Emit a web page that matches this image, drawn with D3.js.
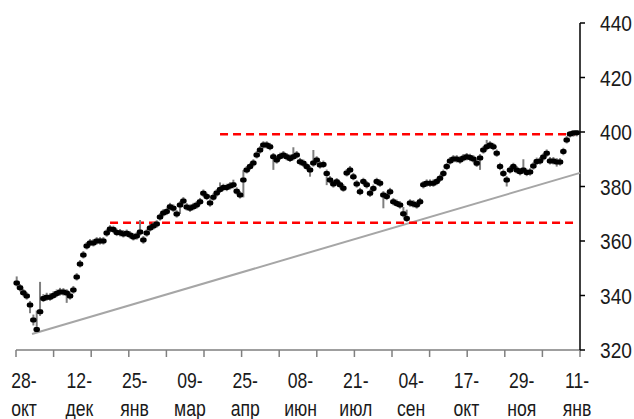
<!DOCTYPE html>
<html>
<head>
<meta charset="utf-8">
<script src="https://cdn.jsdelivr.net/npm/d3@7"></script>
<style>
  body { margin: 0; background: #fff; }
  text { font-family: Arial, "Liberation Sans", sans-serif; fill: #1a1a1a; }
</style>
</head>
<body>
<div id="chart"></div>
<script>
var width = 634,
    height = 419;

// closing prices, one per trading step
var closes = [
  344.6,342.8,341.0,339.8,336.5,331.0,327.5,334.0,338.9,339.4,
  339.4,340.0,340.7,341.3,341.3,340.9,339.8,342.0,346.8,351.6,
  354.9,358.2,359.3,359.3,360.0,360.0,360.0,362.9,364.4,364.2,
  363.1,363.0,362.6,362.8,362.2,361.5,361.8,363.3,360.4,362.9,
  364.8,365.5,366.2,368.8,370.3,370.8,372.6,372.0,369.9,373.2,
  374.7,372.5,372.0,372.6,373.2,374.4,377.5,376.3,373.9,376.1,
  377.6,378.9,379.6,379.6,380.2,380.6,378.3,376.9,382.4,386.1,
  387.3,388.6,391.6,393.4,395.2,395.2,394.6,390.9,389.7,391.0,
  391.6,390.9,390.3,390.9,391.6,389.1,388.5,387.3,386.1,388.6,
  389.7,387.9,388.1,384.8,382.4,380.9,381.7,380.6,379.4,385.0,
  386.1,383.6,380.9,378.1,381.8,380.6,377.5,379.3,381.8,381.2,
  376.9,376.3,378.1,374.4,373.8,373.2,370.0,368.3,373.9,373.6,
  373.2,374.4,380.6,381.2,381.2,381.2,381.8,383.0,384.8,387.3,
  389.4,390.1,390.1,389.7,390.5,390.9,390.6,390.1,388.5,390.5,
  393.4,394.6,395.2,394.6,392.2,387.3,384.8,382.4,386.1,387.3,
  386.1,385.4,386.1,385.1,385.3,387.5,389.2,389.4,390.8,392.2,
  389.4,389.4,389.0,389.0,392.8,397.1,399.3,399.6,399.7
];

var highs = [
  347.0,344.2,342.4,341.2,338.0,333.0,334.5,345.0,340.5,341.0,
  340.8,341.5,342.2,342.8,342.7,342.3,341.2,343.5,348.2,353.0,
  356.3,359.6,360.7,360.7,361.4,361.4,361.4,364.3,365.8,365.6,
  364.5,364.4,364.0,364.2,363.6,362.9,363.2,367.7,361.8,364.3,
  366.2,366.9,367.6,370.2,371.7,372.2,374.0,373.4,371.3,374.6,
  376.1,373.9,373.4,374.0,374.6,375.8,378.9,377.7,375.3,377.5,
  379.0,381.5,381.0,381.0,381.6,382.5,379.7,378.3,386.0,387.5,
  388.7,390.0,393.0,394.8,396.6,396.6,396.0,392.3,391.1,392.4,
  393.0,392.3,391.7,394.4,393.0,390.5,389.9,388.7,387.5,393.4,
  391.1,389.3,389.5,386.2,383.8,382.3,383.1,382.0,380.8,386.4,
  387.5,385.0,382.3,379.5,383.2,382.0,378.9,380.7,383.2,382.6,
  378.3,377.7,379.5,375.8,375.2,374.6,372.5,371.5,375.3,375.0,
  374.6,375.8,382.0,382.6,382.6,382.6,383.2,384.4,386.2,388.7,
  390.8,391.5,391.5,391.1,391.9,392.3,392.0,391.5,389.9,391.9,
  394.8,397.1,396.6,396.0,393.6,388.7,386.2,383.8,387.5,388.7,
  387.5,386.8,390.0,386.5,386.7,388.9,390.6,390.8,392.2,393.6,
  390.8,390.8,390.4,390.4,394.2,398.5,400.3,400.6,400.5
];

var lows = [
  343.3,341.5,339.7,338.5,333.5,329.0,326.5,332.5,337.6,338.1,
  338.1,338.7,339.4,340.0,340.0,337.3,338.5,340.7,345.5,350.3,
  353.6,356.9,358.0,358.0,358.7,358.7,358.7,361.6,363.1,362.9,
  361.8,361.7,361.3,361.5,360.9,360.2,360.5,362.0,359.0,361.6,
  363.5,364.2,364.9,367.5,369.0,369.5,371.3,370.7,368.6,369.9,
  373.4,371.2,370.7,371.3,371.9,373.1,376.2,375.0,372.6,374.8,
  376.3,377.6,378.3,378.3,378.9,379.3,377.0,375.6,376.0,384.8,
  386.0,387.3,390.3,392.1,393.9,393.9,393.3,386.1,388.4,389.7,
  390.3,389.6,389.0,389.6,390.3,387.8,387.2,386.0,383.6,387.3,
  388.4,386.6,386.8,380.5,381.1,379.6,380.4,379.3,378.1,383.7,
  384.8,382.3,379.6,376.8,380.5,379.3,376.2,378.0,380.5,379.9,
  372.0,375.0,376.8,373.1,372.5,371.9,368.7,367.0,372.6,372.3,
  371.9,373.1,379.3,379.9,379.9,379.9,380.5,381.7,383.5,386.0,
  388.1,388.8,388.8,388.4,389.2,389.6,389.3,388.8,387.2,386.1,
  392.1,393.3,393.9,393.3,390.9,386.0,383.5,380.0,384.8,386.0,
  384.8,384.1,384.8,383.8,384.0,386.2,387.9,388.1,389.5,390.9,
  388.1,388.1,387.3,387.7,391.5,395.8,398.0,398.3,398.4
];

var dateLabels = [
  ["28-", "окт"], ["12-", "дек"], ["25-", "янв"], ["09-", "мар"],
  ["25-", "апр"], ["08-", "июн"], ["21-", "июл"], ["04-", "сен"],
  ["17-", "окт"], ["29-", "ноя"], ["11-", "янв"]
];
var yTicks = [320, 340, 360, 380, 400, 420, 440];

// resistance / support levels: [value, from step, to step]
var levels = [[399.2, 61, 167.5], [366.7, 28, 167.5]];
// trend line: [step, value]
var trend = [[4.6, 325.9], [169, 385.0]];

var axisTicks = d3.range(16);

var svg = d3.select("#chart").append("svg")
    .attr("width", width)
    .attr("height", height);

var x = d3.scaleLinear().domain([0, closes.length - 1]).range([16.7, 576.7]);
var y = d3.scaleLinear().domain([320, 440]).range([350, 23]);
var xTick = d3.scaleLinear().domain([0, 15]).range([16, 580]);
var xLab = d3.scalePoint().domain(d3.range(dateLabels.length)).range([24, 577]);

// x axis
svg.append("line")
    .attr("x1", 16).attr("x2", 580)
    .attr("y1", 350).attr("y2", 350)
    .attr("stroke", "#7f7f7f").attr("stroke-width", 1.5);
svg.selectAll("line.xtick")
    .data(axisTicks).enter().append("line")
    .attr("class", "xtick")
    .attr("x1", function(d) { return xTick(d); })
    .attr("x2", function(d) { return xTick(d); })
    .attr("y1", 350).attr("y2", 357)
    .attr("stroke", "#7f7f7f").attr("stroke-width", 1.5);

var xl = svg.selectAll("g.xlab")
    .data(dateLabels).enter().append("g")
    .attr("class", "xlab")
    .attr("transform", function(d, i) { return "translate(" + xLab(i) + ",0) scale(0.8,1)"; });
xl.append("text")
    .attr("y", 388).attr("text-anchor", "middle")
    .style("font-size", "22px")
    .text(function(d) { return d[0]; });
xl.append("text")
    .attr("y", 416).attr("text-anchor", "middle")
    .style("font-size", "22px")
    .text(function(d) { return d[1]; });

// y axis on the right
svg.append("line")
    .attr("x1", 580).attr("x2", 580)
    .attr("y1", y(440)).attr("y2", y(320))
    .attr("stroke", "#000").attr("stroke-width", 1.5);
svg.selectAll("line.ytick")
    .data(yTicks).enter().append("line")
    .attr("class", "ytick")
    .attr("x1", 580).attr("x2", 585)
    .attr("y1", function(d) { return y(d); })
    .attr("y2", function(d) { return y(d); })
    .attr("stroke", "#000").attr("stroke-width", 1.5);
svg.selectAll("g.ylab")
    .data(yTicks).enter().append("g")
    .attr("class", "ylab")
    .attr("transform", function(d) { return "translate(600," + (y(d) + 8) + ") scale(0.87,1)"; })
    .append("text")
    .style("font-size", "22px")
    .text(function(d) { return d; });

// trend line
svg.append("line")
    .attr("x1", x(trend[0][0])).attr("y1", y(trend[0][1]))
    .attr("x2", x(trend[1][0])).attr("y2", y(trend[1][1]))
    .attr("stroke", "#a6a6a6").attr("stroke-width", 2);

// red dashed levels
svg.selectAll("line.level")
    .data(levels).enter().append("line")
    .attr("class", "level")
    .attr("x1", function(d) { return x(d[1]); })
    .attr("x2", function(d) { return x(d[2]); })
    .attr("y1", function(d) { return y(d[0]); })
    .attr("y2", function(d) { return y(d[0]); })
    .attr("stroke", "#ff0000").attr("stroke-width", 2.5)
    .attr("stroke-dasharray", "8,5");

// high-low lines
svg.selectAll("line.hl")
    .data(closes).enter().append("line")
    .attr("class", "hl")
    .attr("x1", function(d, i) { return x(i); })
    .attr("x2", function(d, i) { return x(i); })
    .attr("y1", function(d, i) { return y(highs[i]); })
    .attr("y2", function(d, i) { return y(lows[i]); })
    .attr("stroke", "#7f7f7f").attr("stroke-width", 2);

// close markers
svg.selectAll("rect.mk")
    .data(closes).enter().append("rect")
    .attr("class", "mk")
    .attr("x", function(d, i) { return x(i) - 3.25; })
    .attr("y", function(d) { return y(d) - 2.5; })
    .attr("width", 6.5).attr("height", 5)
    .attr("rx", 2)
    .attr("fill", "#000");
</script>
</body>
</html>
